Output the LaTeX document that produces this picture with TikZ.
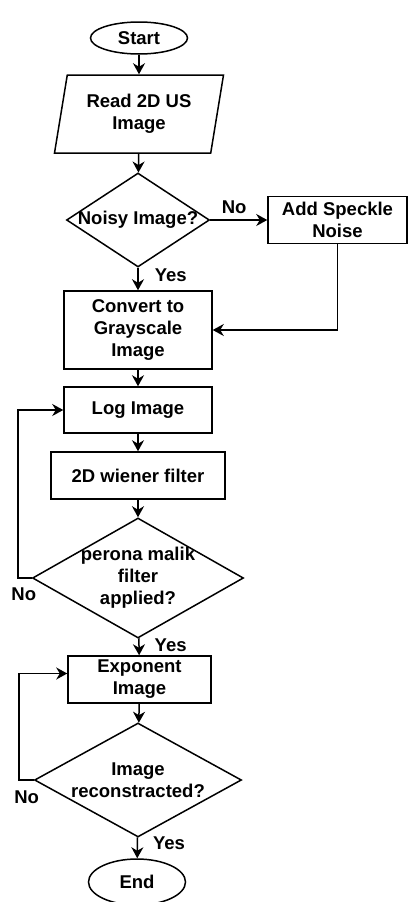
\documentclass[tikz,border=0pt]{standalone}
\usepackage{fontspec}
\setmainfont{Liberation Sans}
\usetikzlibrary{shapes.geometric,arrows.meta}

\begin{document}
\begin{tikzpicture}[x=1pt, y=-1pt,
    font=\bfseries\fontsize{18.5}{22}\selectfont,
    line width=1.5pt,
    terminal/.style={ellipse, draw, minimum width=97pt, inner sep=0pt},
    io/.style={trapezium, trapezium left angle=72, trapezium right angle=108,
        trapezium stretches body, draw, minimum width=169pt, minimum height=78pt,
        inner sep=0pt, align=center},
    process/.style={rectangle, draw, inner sep=0pt, align=center},
    decision/.style={diamond, draw, inner sep=0pt},
    dtext/.style={align=center, inner sep=0pt},
    flow/.style={-{Stealth[length=11pt, width=12pt, inset=3.5pt]}},
    tag/.style={inner sep=0pt},
]
    \useasboundingbox (0,0) rectangle (408,902);

    \node[terminal, minimum height=32pt] (start) at (139,38) {Start};
    \node[io] (read) at (139,114) {Read 2D US\\Image};
    \node[decision, minimum width=143pt, minimum height=94pt,
        label={[dtext]center:Noisy Image?}] (noisy) at (138,220) {};
    \node[process, minimum width=139pt, minimum height=47pt] (speckle) at (337.5,220) {Add Speckle\\Noise};
    \node[process, minimum width=148pt, minimum height=78pt] (convert) at (138,330) {Convert to\\Grayscale\\Image};
    \node[process, minimum width=148pt, minimum height=46pt] (log) at (138,410) {Log Image};
    \node[process, minimum width=174pt, minimum height=47pt] (wiener) at (138,475.5) {2D wiener filter};
    \node[decision, minimum width=211pt, minimum height=120pt,
        label={[dtext]center:{perona malik\\filter\\applied?}}] (perona) at (138,578) {};
    \node[process, minimum width=143pt, minimum height=47pt] (expo) at (139.5,679.5) {Exponent\\Image};
    \node[decision, minimum width=207pt, minimum height=114pt,
        label={[dtext]center:{Image\\reconstracted?}}] (recon) at (138,780) {};
    \node[terminal, minimum height=46pt] (end) at (137,882) {End};

    \draw[flow] (start) -- (read);
    \draw[flow] (read) -- (noisy);
    \draw[flow] (noisy.east) -- node[tag, pos=0.42, above=6pt] {No} (noisy.east -| speckle.west);
    \draw[flow] (noisy) -- node[tag, pos=0.33, right=16pt] {Yes} (convert);
    \draw[flow] (speckle) |- (convert);
    \draw[flow] (convert) -- (log);
    \draw[flow] (log) -- (wiener);
    \draw[flow] (wiener) -- (perona);
    \draw[flow] (perona.west) -- ++(-14,0) node[tag, pos=0.57, below=9pt] {No} |- (log.west);
    \draw[flow] (perona) -- node[tag, pos=0.4, right=15pt] {Yes} (expo);
    \draw[flow] (expo) -- (recon);
    \draw[flow] (recon.west) -- ++(-15,0) node[tag, pos=0.47, below=10pt] {No} |- ([yshift=6pt]expo.west);
    \draw[flow] (recon) -- node[tag, pos=0.3, right=15pt] {Yes} (end);
\end{tikzpicture}
\end{document}
